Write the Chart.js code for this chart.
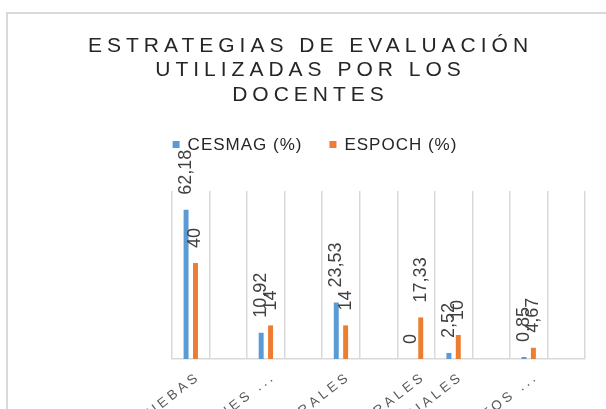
<!DOCTYPE html>
<html>
<head>
<meta charset="utf-8">
<script src="https://cdn.jsdelivr.net/npm/chart.js@4.4.1/dist/chart.umd.min.js"></script>
<style>
  html, body { margin: 0; padding: 0; background: #fff; overflow: hidden; }
  #wrap { width: 606px; height: 409px; }
</style>
</head>
<body>
<div id="wrap"><canvas id="chart" width="606" height="409"></canvas></div>
<script>
// data (empty categories keep the original spacing)
const titleLines = ["ESTRATEGIAS DE EVALUACIÓN", "UTILIZADAS POR LOS", "DOCENTES"];
const categories = ["PRUEBAS", "", "EXPOSICIONES ...", "", "LECCIONES ORALES", "", "PRUEBAS ORALES", "EVALUACIONES PARCIALES", "", "PROYECTOS ...", ""];
const seriesNames = ["CESMAG (%)", "ESPOCH (%)"];
const cesmag = [62.18, null, 10.92, null, 23.53, null, 0, 2.52, null, 0.85, null];
const espoch = [40, null, 14, null, 14, null, 17.33, 10, null, 4.67, null];
const colors = ["#5b9bd5", "#ed7d31"];

const FONT = '"Liberation Sans", Arial, sans-serif';

const textPlugin = {
  id: "textPlugin",
  beforeDraw(chart) {
    const c = chart.ctx;
    c.save();
    c.fillStyle = "#fff";
    c.fillRect(0, 0, chart.width, chart.height);
    c.strokeStyle = "#d9d9d9";
    c.lineWidth = 2;
    c.strokeRect(7, 13, chart.width + 20, chart.height + 20);
    c.restore();
  },
  afterDraw(chart) {
    const c = chart.ctx;
    const cx = chart.width / 2;

    // title, spaced letters
    c.save();
    c.font = "21px " + FONT;
    c.letterSpacing = "5px";
    c.fillStyle = "#262626";
    c.textAlign = "left";
    c.textBaseline = "alphabetic";
    titleLines.forEach((line, i) => {
      const w = c.measureText(line).width - 5;
      c.fillText(line, cx + 5 - w / 2, 52 + i * 24.4);
    });
    c.restore();

    // legend
    c.save();
    c.font = "17px " + FONT;
    c.letterSpacing = "1px";
    c.textBaseline = "alphabetic";
    c.textAlign = "left";
    const widths = chart.data.datasets.map(ds => c.measureText(ds.label).width);
    const total = widths.reduce((a, w) => a + 7 + 8 + w, 0) + 27;
    let x = cx + 12 - total / 2;
    chart.data.datasets.forEach((ds, i) => {
      c.fillStyle = ds.backgroundColor;
      c.fillRect(x, 141, 7, 7);
      c.fillStyle = "#262626";
      c.fillText(ds.label, x + 15, 150);
      x += 15 + widths[i] + 27;
    });
    c.restore();

    // value labels, rotated
    c.save();
    c.font = "18px " + FONT;
    c.fillStyle = "#404040";
    c.textAlign = "left";
    c.textBaseline = "middle";
    chart.data.datasets.forEach((ds, di) => {
      const meta = chart.getDatasetMeta(di);
      meta.data.forEach((bar, i) => {
        const v = ds.data[i];
        if (v === null) return;
        c.save();
        c.translate(bar.x, bar.y - 15);
        c.rotate(-Math.PI / 2);
        c.fillText(String(v).replace(".", ","), 0, 0);
        c.restore();
      });
    });
    c.restore();

    // category labels, rotated and cut by the edge
    const xs = chart.scales.x;
    c.save();
    c.font = "13.5px " + FONT;
    c.letterSpacing = "3.5px";
    c.fillStyle = "#595959";
    c.textAlign = "right";
    c.textBaseline = "middle";
    categories.forEach((label, i) => {
      if (!label) return;
      c.save();
      c.translate(xs.getPixelForValue(i) + 8, xs.bottom + 16);
      c.rotate(-38 * Math.PI / 180);
      c.fillText(label, 0, 0);
      c.restore();
    });
    c.restore();
  }
};

new Chart(document.getElementById("chart"), {
  type: "bar",
  data: {
    labels: categories,
    datasets: [
      { label: seriesNames[0], data: cesmag, backgroundColor: colors[0] },
      { label: seriesNames[1], data: espoch, backgroundColor: colors[1] }
    ]
  },
  options: {
    responsive: false,
    animation: false,
    categoryPercentage: 0.5,
    barPercentage: 0.53,
    layout: { padding: { top: 191, left: 172, right: 21, bottom: 50 } },
    plugins: {
      legend: { display: false },
      title: { display: false },
      tooltip: { enabled: false }
    },
    scales: {
      x: {
        grid: { offset: true, color: "#d9d9d9", lineWidth: 1.5, drawTicks: false },
        border: { color: "#d9d9d9", width: 1.5 },
        ticks: { display: false }
      },
      y: { display: false, min: 0, max: 70 }
    }
  },
  plugins: [textPlugin]
});
</script>
</body>
</html>
